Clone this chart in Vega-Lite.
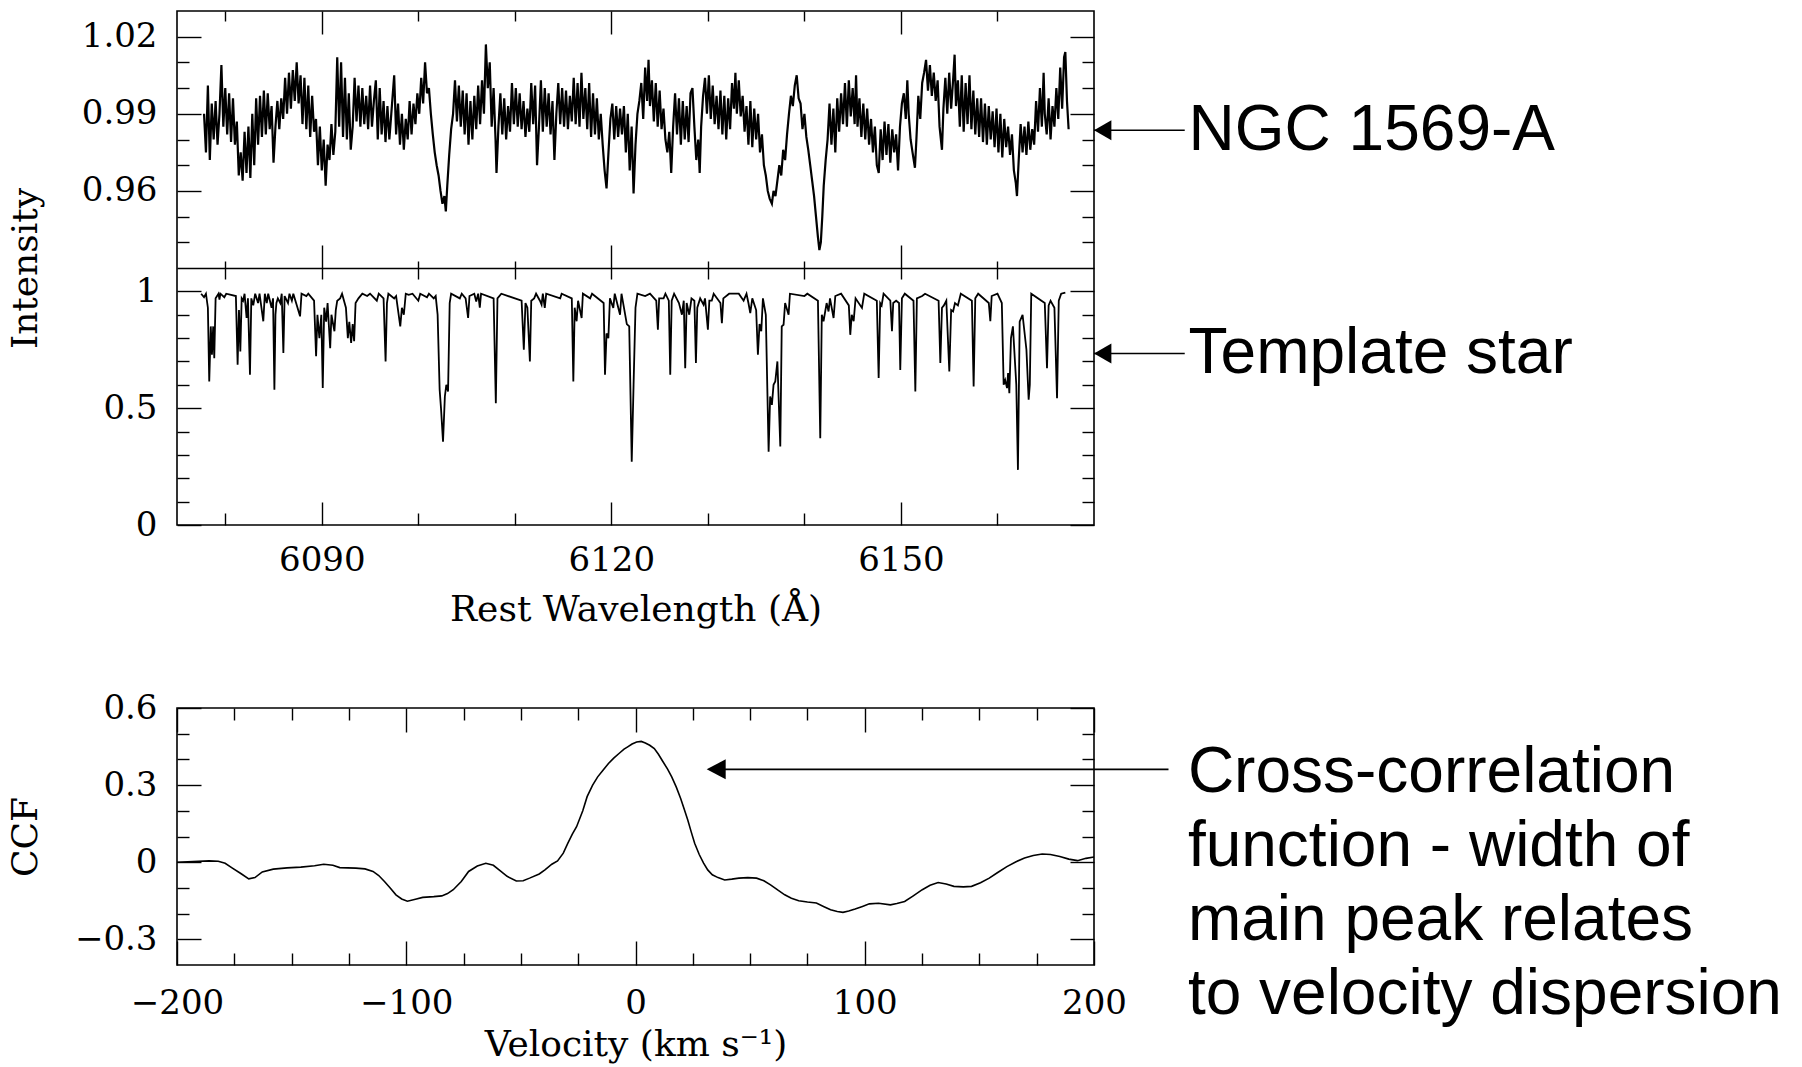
{
  "$schema": "https://vega.github.io/schema/vega-lite/v6.json",
  "background": "white",
  "padding": {"left": 6, "top": 9, "right": 5, "bottom": 3},
  "spacing": 62,
  "config": {
    "font": "DejaVu Serif",
    "view": {"stroke": "black", "strokeWidth": 1.6},
    "axis": {
      "domain": false, "grid": false, "tickColor": "black", "tickWidth": 1.4,
      "labelFont": "DejaVu Serif", "labelFontSize": 34, "labelColor": "black",
      "titleFont": "DejaVu Serif", "titleFontSize": 36, "titleColor": "black", "titleFontWeight": "normal",
      "labelFlush": false, "labelOverlap": false
    }
  },
  "datasets": {
    "ngc": [
      {"w":6077.8,"f":0.990},{"w":6078.0,"f":0.975},{"w":6078.2,"f":1.001},{"w":6078.4,"f":0.972},{"w":6078.6,"f":0.994},{"w":6078.8,"f":0.980},{"w":6079.0,"f":0.995},{"w":6079.2,"f":0.978},{"w":6079.4,"f":0.990},{"w":6079.6,"f":1.009},
      {"w":6079.8,"f":0.985},{"w":6080.0,"f":1.000},{"w":6080.2,"f":0.982},{"w":6080.4,"f":0.998},{"w":6080.6,"f":0.979},{"w":6080.8,"f":0.996},{"w":6081.0,"f":0.978},{"w":6081.2,"f":0.987},{"w":6081.4,"f":0.966},{"w":6081.6,"f":0.975},
      {"w":6081.8,"f":0.964},{"w":6082.0,"f":0.983},{"w":6082.2,"f":0.967},{"w":6082.4,"f":0.985},{"w":6082.6,"f":0.965},{"w":6082.8,"f":0.990},{"w":6083.0,"f":0.970},{"w":6083.2,"f":0.996},{"w":6083.4,"f":0.978},{"w":6083.6,"f":0.997},
      {"w":6083.8,"f":0.981},{"w":6084.0,"f":0.999},{"w":6084.2,"f":0.982},{"w":6084.4,"f":0.998},{"w":6084.6,"f":0.984},{"w":6084.8,"f":0.993},{"w":6085.0,"f":0.971},{"w":6085.2,"f":0.985},{"w":6085.4,"f":0.995},{"w":6085.6,"f":0.984},
      {"w":6085.8,"f":0.996},{"w":6086.0,"f":0.988},{"w":6086.2,"f":1.004},{"w":6086.4,"f":0.990},{"w":6086.6,"f":1.006},{"w":6086.8,"f":0.992},{"w":6087.0,"f":1.007},{"w":6087.2,"f":0.995},{"w":6087.4,"f":1.010},{"w":6087.6,"f":0.994},
      {"w":6087.8,"f":1.005},{"w":6088.0,"f":0.986},{"w":6088.2,"f":1.004},{"w":6088.4,"f":0.984},{"w":6088.6,"f":1.001},{"w":6088.8,"f":0.981},{"w":6089.0,"f":0.997},{"w":6089.2,"f":0.983},{"w":6089.4,"f":0.988},{"w":6089.6,"f":0.970},
      {"w":6089.8,"f":0.985},{"w":6090.0,"f":0.968},{"w":6090.2,"f":0.980},{"w":6090.4,"f":0.962},{"w":6090.6,"f":0.978},{"w":6090.8,"f":0.972},{"w":6091.0,"f":0.986},{"w":6091.2,"f":0.974},{"w":6091.4,"f":0.983},{"w":6091.6,"f":1.012},
      {"w":6091.8,"f":0.985},{"w":6092.0,"f":1.010},{"w":6092.2,"f":0.981},{"w":6092.4,"f":1.004},{"w":6092.6,"f":0.980},{"w":6092.8,"f":0.998},{"w":6093.0,"f":0.976},{"w":6093.2,"f":0.985},{"w":6093.4,"f":1.004},{"w":6093.6,"f":0.987},
      {"w":6093.8,"f":1.001},{"w":6094.0,"f":0.985},{"w":6094.2,"f":1.000},{"w":6094.4,"f":0.986},{"w":6094.6,"f":0.997},{"w":6094.8,"f":0.984},{"w":6095.0,"f":1.001},{"w":6095.2,"f":0.985},{"w":6095.4,"f":0.995},{"w":6095.6,"f":1.003},
      {"w":6095.8,"f":0.980},{"w":6096.0,"f":1.000},{"w":6096.2,"f":0.982},{"w":6096.4,"f":0.995},{"w":6096.6,"f":0.979},{"w":6096.8,"f":0.993},{"w":6097.0,"f":0.980},{"w":6097.2,"f":0.990},{"w":6097.5,"f":1.005},{"w":6097.7,"f":0.982},
      {"w":6097.9,"f":0.994},{"w":6098.1,"f":0.978},{"w":6098.3,"f":0.990},{"w":6098.5,"f":0.976},{"w":6098.7,"f":0.988},{"w":6098.9,"f":0.980},{"w":6099.1,"f":0.995},{"w":6099.3,"f":0.982},{"w":6099.5,"f":0.994},{"w":6099.7,"f":0.986},
      {"w":6099.9,"f":0.998},{"w":6100.1,"f":0.990},{"w":6100.3,"f":1.004},{"w":6100.5,"f":0.994},{"w":6100.7,"f":1.010},{"w":6100.9,"f":0.998},{"w":6101.1,"f":1.000},{"w":6101.3,"f":0.990},{"w":6101.5,"f":0.982},{"w":6101.7,"f":0.975},
      {"w":6101.9,"f":0.970},{"w":6102.1,"f":0.966},{"w":6102.3,"f":0.960},{"w":6102.5,"f":0.955},{"w":6102.7,"f":0.958},{"w":6102.85,"f":0.952},{"w":6103.0,"f":0.962},{"w":6103.2,"f":0.974},{"w":6103.4,"f":0.984},{"w":6103.6,"f":0.990},
      {"w":6103.8,"f":1.003},{"w":6104.0,"f":0.987},{"w":6104.2,"f":1.001},{"w":6104.4,"f":0.985},{"w":6104.6,"f":0.999},{"w":6104.8,"f":0.982},{"w":6105.0,"f":0.998},{"w":6105.2,"f":0.978},{"w":6105.4,"f":0.995},{"w":6105.6,"f":0.980},
      {"w":6105.8,"f":0.997},{"w":6106.0,"f":0.984},{"w":6106.2,"f":1.001},{"w":6106.4,"f":0.986},{"w":6106.6,"f":1.003},{"w":6106.8,"f":0.990},{"w":6107.0,"f":1.017},{"w":6107.2,"f":1.000},{"w":6107.4,"f":1.010},{"w":6107.6,"f":0.985},
      {"w":6107.8,"f":1.000},{"w":6108.0,"f":0.980},{"w":6108.1,"f":0.967},{"w":6108.3,"f":0.985},{"w":6108.5,"f":0.998},{"w":6108.7,"f":0.982},{"w":6108.9,"f":0.996},{"w":6109.1,"f":0.980},{"w":6109.3,"f":0.993},{"w":6109.5,"f":0.983},
      {"w":6109.7,"f":1.002},{"w":6109.9,"f":0.986},{"w":6110.1,"f":1.000},{"w":6110.3,"f":0.985},{"w":6110.5,"f":0.998},{"w":6110.7,"f":0.984},{"w":6110.9,"f":0.995},{"w":6111.1,"f":0.981},{"w":6111.3,"f":0.992},{"w":6111.5,"f":0.983},
      {"w":6111.7,"f":1.002},{"w":6111.9,"f":0.986},{"w":6112.1,"f":1.001},{"w":6112.3,"f":0.970},{"w":6112.5,"f":0.985},{"w":6112.7,"f":1.003},{"w":6112.9,"f":0.983},{"w":6113.1,"f":1.000},{"w":6113.3,"f":0.985},{"w":6113.5,"f":0.998},
      {"w":6113.7,"f":0.982},{"w":6113.9,"f":0.995},{"w":6114.1,"f":0.972},{"w":6114.3,"f":0.990},{"w":6114.5,"f":1.002},{"w":6114.7,"f":0.986},{"w":6114.9,"f":1.000},{"w":6115.1,"f":0.985},{"w":6115.3,"f":0.999},{"w":6115.5,"f":0.984},
      {"w":6115.7,"f":0.997},{"w":6115.9,"f":0.987},{"w":6116.1,"f":1.004},{"w":6116.3,"f":0.986},{"w":6116.5,"f":1.002},{"w":6116.7,"f":0.985},{"w":6116.9,"f":1.006},{"w":6117.1,"f":0.988},{"w":6117.3,"f":1.000},{"w":6117.5,"f":0.984},
      {"w":6117.7,"f":1.002},{"w":6117.9,"f":0.981},{"w":6118.1,"f":0.998},{"w":6118.3,"f":0.982},{"w":6118.5,"f":0.996},{"w":6118.7,"f":0.980},{"w":6118.9,"f":0.990},{"w":6119.1,"f":0.978},{"w":6119.3,"f":0.968},{"w":6119.5,"f":0.961},
      {"w":6119.7,"f":0.975},{"w":6119.9,"f":0.988},{"w":6120.1,"f":0.994},{"w":6120.3,"f":0.980},{"w":6120.5,"f":0.993},{"w":6120.7,"f":0.981},{"w":6120.9,"f":0.992},{"w":6121.1,"f":0.982},{"w":6121.3,"f":0.993},{"w":6121.5,"f":0.975},
      {"w":6121.7,"f":0.990},{"w":6121.9,"f":0.968},{"w":6122.1,"f":0.985},{"w":6122.3,"f":0.959},{"w":6122.5,"f":0.978},{"w":6122.7,"f":0.990},{"w":6122.9,"f":0.995},{"w":6123.1,"f":1.002},{"w":6123.3,"f":0.988},{"w":6123.5,"f":1.008},
      {"w":6123.7,"f":0.995},{"w":6123.85,"f":1.011},{"w":6124.0,"f":0.993},{"w":6124.2,"f":1.003},{"w":6124.4,"f":0.987},{"w":6124.6,"f":1.002},{"w":6124.8,"f":0.985},{"w":6125.0,"f":0.999},{"w":6125.2,"f":0.984},{"w":6125.4,"f":0.992},
      {"w":6125.6,"f":0.980},{"w":6125.8,"f":0.975},{"w":6126.0,"f":0.983},{"w":6126.2,"f":0.967},{"w":6126.4,"f":0.985},{"w":6126.6,"f":0.998},{"w":6126.8,"f":0.982},{"w":6127.0,"f":0.996},{"w":6127.2,"f":0.978},{"w":6127.4,"f":0.995},
      {"w":6127.6,"f":0.980},{"w":6127.8,"f":0.993},{"w":6128.0,"f":0.979},{"w":6128.2,"f":0.998},{"w":6128.4,"f":1.000},{"w":6128.6,"f":0.985},{"w":6128.8,"f":0.972},{"w":6129.0,"f":0.980},{"w":6129.15,"f":0.967},{"w":6129.3,"f":0.985},
      {"w":6129.5,"f":0.997},{"w":6129.7,"f":1.004},{"w":6129.9,"f":0.990},{"w":6130.1,"f":1.005},{"w":6130.3,"f":0.988},{"w":6130.5,"f":1.001},{"w":6130.7,"f":0.986},{"w":6130.9,"f":0.997},{"w":6131.1,"f":0.984},{"w":6131.3,"f":0.999},
      {"w":6131.5,"f":0.982},{"w":6131.7,"f":0.997},{"w":6131.9,"f":0.980},{"w":6132.1,"f":0.996},{"w":6132.3,"f":0.984},{"w":6132.5,"f":1.002},{"w":6132.7,"f":0.992},{"w":6132.85,"f":1.006},{"w":6133.0,"f":0.990},{"w":6133.2,"f":1.003},
      {"w":6133.4,"f":0.989},{"w":6133.6,"f":0.997},{"w":6133.8,"f":0.983},{"w":6134.0,"f":0.993},{"w":6134.2,"f":0.978},{"w":6134.4,"f":0.995},{"w":6134.6,"f":0.977},{"w":6134.8,"f":0.992},{"w":6135.0,"f":0.980},{"w":6135.2,"f":0.990},
      {"w":6135.4,"f":0.975},{"w":6135.6,"f":0.982},{"w":6135.8,"f":0.970},{"w":6136.0,"f":0.966},{"w":6136.2,"f":0.960},{"w":6136.4,"f":0.957},{"w":6136.63,"f":0.955},{"w":6136.8,"f":0.960},{"w":6137.0,"f":0.958},{"w":6137.2,"f":0.964},
      {"w":6137.4,"f":0.970},{"w":6137.6,"f":0.966},{"w":6137.8,"f":0.976},{"w":6138.0,"f":0.972},{"w":6138.2,"f":0.982},{"w":6138.4,"f":0.990},{"w":6138.6,"f":0.997},{"w":6138.8,"f":0.993},{"w":6139.0,"f":1.001},{"w":6139.2,"f":1.005},
      {"w":6139.4,"f":0.996},{"w":6139.6,"f":0.994},{"w":6139.8,"f":0.984},{"w":6140.0,"f":0.990},{"w":6140.2,"f":0.981},{"w":6140.4,"f":0.976},{"w":6140.6,"f":0.970},{"w":6140.8,"f":0.964},{"w":6141.0,"f":0.958},{"w":6141.2,"f":0.950},
      {"w":6141.4,"f":0.942},{"w":6141.55,"f":0.937},{"w":6141.7,"f":0.940},{"w":6141.85,"f":0.950},{"w":6142.0,"f":0.962},{"w":6142.2,"f":0.972},{"w":6142.4,"f":0.980},{"w":6142.6,"f":0.994},{"w":6142.8,"f":0.978},{"w":6143.0,"f":0.992},
      {"w":6143.2,"f":0.975},{"w":6143.4,"f":0.996},{"w":6143.6,"f":0.983},{"w":6143.8,"f":0.998},{"w":6144.0,"f":0.986},{"w":6144.2,"f":1.002},{"w":6144.4,"f":0.985},{"w":6144.6,"f":1.003},{"w":6144.8,"f":0.989},{"w":6145.0,"f":1.000},
      {"w":6145.2,"f":0.986},{"w":6145.35,"f":1.005},{"w":6145.5,"f":0.985},{"w":6145.7,"f":0.996},{"w":6145.9,"f":0.981},{"w":6146.1,"f":0.994},{"w":6146.3,"f":0.980},{"w":6146.5,"f":0.992},{"w":6146.7,"f":0.978},{"w":6146.9,"f":0.988},
      {"w":6147.1,"f":0.975},{"w":6147.3,"f":0.985},{"w":6147.5,"f":0.970},{"w":6147.7,"f":0.967},{"w":6147.9,"f":0.984},{"w":6148.1,"f":0.972},{"w":6148.3,"f":0.987},{"w":6148.5,"f":0.974},{"w":6148.7,"f":0.986},{"w":6148.9,"f":0.971},
      {"w":6149.1,"f":0.984},{"w":6149.3,"f":0.975},{"w":6149.5,"f":0.982},{"w":6149.7,"f":0.968},{"w":6149.9,"f":0.985},{"w":6150.1,"f":0.994},{"w":6150.3,"f":0.998},{"w":6150.5,"f":0.988},{"w":6150.66,"f":1.003},{"w":6150.8,"f":0.990},
      {"w":6151.0,"f":0.980},{"w":6151.2,"f":0.975},{"w":6151.45,"f":0.969},{"w":6151.6,"f":0.980},{"w":6151.8,"f":0.997},{"w":6152.0,"f":0.988},{"w":6152.2,"f":1.002},{"w":6152.4,"f":1.006},{"w":6152.6,"f":1.011},{"w":6152.8,"f":0.999},
      {"w":6153.0,"f":1.009},{"w":6153.2,"f":0.997},{"w":6153.4,"f":1.006},{"w":6153.6,"f":0.995},{"w":6153.8,"f":1.003},{"w":6154.0,"f":0.985},{"w":6154.25,"f":0.976},{"w":6154.4,"f":0.992},{"w":6154.6,"f":1.004},{"w":6154.8,"f":0.990},
      {"w":6155.0,"f":1.006},{"w":6155.2,"f":0.992},{"w":6155.4,"f":1.003},{"w":6155.56,"f":1.013},{"w":6155.7,"f":0.993},{"w":6155.9,"f":1.003},{"w":6156.1,"f":0.985},{"w":6156.3,"f":1.005},{"w":6156.5,"f":0.983},{"w":6156.7,"f":1.002},
      {"w":6156.9,"f":0.986},{"w":6157.1,"f":1.005},{"w":6157.3,"f":0.984},{"w":6157.5,"f":0.999},{"w":6157.7,"f":0.982},{"w":6157.9,"f":0.996},{"w":6158.1,"f":0.981},{"w":6158.3,"f":0.996},{"w":6158.5,"f":0.979},{"w":6158.7,"f":0.994},
      {"w":6158.9,"f":0.978},{"w":6159.1,"f":0.993},{"w":6159.3,"f":0.980},{"w":6159.5,"f":0.991},{"w":6159.7,"f":0.977},{"w":6159.9,"f":0.992},{"w":6160.1,"f":0.975},{"w":6160.3,"f":0.990},{"w":6160.5,"f":0.973},{"w":6160.7,"f":0.988},
      {"w":6160.9,"f":0.977},{"w":6161.1,"f":0.985},{"w":6161.3,"f":0.974},{"w":6161.5,"f":0.982},{"w":6161.7,"f":0.968},{"w":6161.9,"f":0.963},{"w":6162.02,"f":0.958},{"w":6162.2,"f":0.972},{"w":6162.4,"f":0.986},{"w":6162.6,"f":0.975},
      {"w":6162.8,"f":0.985},{"w":6163.0,"f":0.974},{"w":6163.2,"f":0.987},{"w":6163.4,"f":0.976},{"w":6163.6,"f":0.984},{"w":6163.8,"f":0.978},{"w":6164.0,"f":0.995},{"w":6164.2,"f":0.983},{"w":6164.4,"f":1.000},{"w":6164.6,"f":0.985},
      {"w":6164.78,"f":1.006},{"w":6164.9,"f":0.990},{"w":6165.1,"f":0.982},{"w":6165.3,"f":0.996},{"w":6165.5,"f":0.980},{"w":6165.7,"f":0.993},{"w":6165.9,"f":0.985},{"w":6166.1,"f":1.000},{"w":6166.3,"f":0.988},{"w":6166.5,"f":1.008},
      {"w":6166.7,"f":0.992},{"w":6166.9,"f":1.012},{"w":6167.03,"f":1.014},{"w":6167.2,"f":0.995},{"w":6167.37,"f":0.984}
    ],
    "tmpl": [
      {"w":6077.5,"f":0.99},{"w":6077.8,"f":0.975},{"w":6078.0,"f":0.99},{"w":6078.2,"f":0.93},{"w":6078.34,"f":0.614},{"w":6078.5,"f":0.85},{"w":6078.62,"f":0.729},{"w":6078.75,"f":0.85},{"w":6078.86,"f":0.714},{"w":6079.0,"f":0.97},
      {"w":6079.3,"f":0.99},{"w":6079.4,"f":0.965},{"w":6079.5,"f":0.99},{"w":6079.9,"f":0.975},{"w":6080.1,"f":0.99},{"w":6081.1,"f":0.98},{"w":6081.28,"f":0.686},{"w":6081.42,"f":0.92},{"w":6081.56,"f":0.743},{"w":6081.7,"f":0.97},
      {"w":6081.85,"f":0.96},{"w":6082.0,"f":0.99},{"w":6082.21,"f":0.886},{"w":6082.35,"f":0.97},{"w":6082.56,"f":0.643},{"w":6082.7,"f":0.97},{"w":6082.9,"f":0.94},{"w":6083.1,"f":0.99},{"w":6083.4,"f":0.95},{"w":6083.55,"f":0.99},
      {"w":6083.94,"f":0.872},{"w":6084.1,"f":0.99},{"w":6084.3,"f":0.95},{"w":6084.45,"f":0.99},{"w":6084.8,"f":0.93},{"w":6084.95,"f":0.97},{"w":6085.09,"f":0.579},{"w":6085.2,"f":0.90},{"w":6085.3,"f":0.95},{"w":6085.45,"f":0.97},
      {"w":6085.7,"f":0.95},{"w":6085.85,"f":0.99},{"w":6086.02,"f":0.736},{"w":6086.15,"f":0.98},{"w":6086.5,"f":0.95},{"w":6086.65,"f":0.99},{"w":6086.9,"f":0.96},{"w":6087.05,"f":0.99},{"w":6087.75,"f":0.893},{"w":6087.9,"f":0.99},
      {"w":6088.4,"f":0.98},{"w":6088.6,"f":0.99},{"w":6089.2,"f":0.96},{"w":6089.41,"f":0.722},{"w":6089.55,"f":0.90},{"w":6089.75,"f":0.80},{"w":6089.95,"f":0.90},{"w":6090.1,"f":0.586},{"w":6090.25,"f":0.93},{"w":6090.45,"f":0.87},
      {"w":6090.6,"f":0.95},{"w":6090.87,"f":0.757},{"w":6091.0,"f":0.90},{"w":6091.31,"f":0.829},{"w":6091.45,"f":0.92},{"w":6091.6,"f":0.96},{"w":6091.9,"f":0.97},{"w":6092.1,"f":0.99},{"w":6092.5,"f":0.93},{"w":6092.7,"f":0.80},
      {"w":6092.85,"f":0.87},{"w":6093.04,"f":0.779},{"w":6093.2,"f":0.86},{"w":6093.35,"f":0.787},{"w":6093.5,"f":0.95},{"w":6093.8,"f":0.97},{"w":6094.2,"f":0.99},{"w":6094.7,"f":0.98},{"w":6095.0,"f":0.99},{"w":6095.7,"f":0.96},
      {"w":6095.9,"f":0.99},{"w":6096.4,"f":0.97},{"w":6096.61,"f":0.70},{"w":6096.75,"f":0.95},{"w":6096.9,"f":0.99},{"w":6097.5,"f":0.97},{"w":6097.7,"f":0.98},{"w":6098.13,"f":0.85},{"w":6098.3,"f":0.93},{"w":6098.5,"f":0.90},
      {"w":6098.7,"f":0.99},{"w":6099.0,"f":0.985},{"w":6099.4,"f":0.99},{"w":6100.0,"f":0.96},{"w":6100.2,"f":0.99},{"w":6100.9,"f":0.975},{"w":6101.1,"f":0.99},{"w":6101.6,"f":0.97},{"w":6101.8,"f":0.98},{"w":6102.0,"f":0.90},
      {"w":6102.21,"f":0.579},{"w":6102.35,"f":0.50},{"w":6102.56,"f":0.357},{"w":6102.75,"f":0.55},{"w":6102.9,"f":0.60},{"w":6103.08,"f":0.571},{"w":6103.25,"f":0.95},{"w":6103.4,"f":0.99},{"w":6104.3,"f":0.97},{"w":6104.5,"f":0.99},
      {"w":6104.9,"f":0.97},{"w":6105.16,"f":0.886},{"w":6105.3,"f":0.98},{"w":6105.8,"f":0.99},{"w":6106.0,"f":0.957},{"w":6106.2,"f":0.99},{"w":6106.37,"f":0.93},{"w":6106.5,"f":0.99},{"w":6107.8,"f":0.97},{"w":6108.03,"f":0.521},
      {"w":6108.2,"f":0.97},{"w":6108.6,"f":0.99},{"w":6110.7,"f":0.96},{"w":6110.93,"f":0.75},{"w":6111.1,"f":0.95},{"w":6111.3,"f":0.93},{"w":6111.56,"f":0.70},{"w":6111.7,"f":0.96},{"w":6112.0,"f":0.97},{"w":6112.2,"f":0.99},
      {"w":6112.6,"f":0.96},{"w":6112.77,"f":0.943},{"w":6112.9,"f":0.99},{"w":6113.1,"f":0.929},{"w":6113.25,"f":0.99},{"w":6114.7,"f":0.97},{"w":6114.85,"f":0.99},{"w":6115.9,"f":0.97},{"w":6116.06,"f":0.614},{"w":6116.2,"f":0.93},
      {"w":6116.4,"f":0.872},{"w":6116.55,"f":0.96},{"w":6116.92,"f":0.886},{"w":6117.05,"f":0.99},{"w":6117.8,"f":0.97},{"w":6118.0,"f":0.99},{"w":6119.2,"f":0.95},{"w":6119.34,"f":0.643},{"w":6119.5,"f":0.82},{"w":6119.69,"f":0.80},
      {"w":6119.85,"f":0.97},{"w":6120.2,"f":0.929},{"w":6120.35,"f":0.99},{"w":6120.9,"f":0.90},{"w":6121.05,"f":0.99},{"w":6121.6,"f":0.86},{"w":6121.85,"f":0.85},{"w":6122.11,"f":0.271},{"w":6122.3,"f":0.60},{"w":6122.5,"f":0.93},
      {"w":6122.7,"f":0.99},{"w":6123.5,"f":0.98},{"w":6124.0,"f":0.99},{"w":6124.65,"f":0.96},{"w":6124.82,"f":0.836},{"w":6124.95,"f":0.97},{"w":6125.41,"f":0.97},{"w":6125.6,"f":0.99},{"w":6125.95,"f":0.96},{"w":6126.1,"f":0.643},
      {"w":6126.25,"f":0.96},{"w":6126.5,"f":0.99},{"w":6127.0,"f":0.95},{"w":6127.31,"f":0.90},{"w":6127.5,"f":0.96},{"w":6127.65,"f":0.671},{"w":6127.8,"f":0.95},{"w":6128.07,"f":0.90},{"w":6128.3,"f":0.97},{"w":6128.6,"f":0.96},
      {"w":6128.76,"f":0.693},{"w":6128.9,"f":0.93},{"w":6129.2,"f":0.97},{"w":6129.55,"f":0.943},{"w":6129.7,"f":0.97},{"w":6130.0,"f":0.836},{"w":6130.15,"f":0.96},{"w":6130.4,"f":0.96},{"w":6130.6,"f":0.99},{"w":6131.3,"f":0.95},
      {"w":6131.45,"f":0.864},{"w":6131.6,"f":0.97},{"w":6132.2,"f":0.99},{"w":6133.2,"f":0.99},{"w":6133.7,"f":0.96},{"w":6134.0,"f":0.99},{"w":6134.2,"f":0.95},{"w":6134.39,"f":0.907},{"w":6134.6,"f":0.97},{"w":6135.0,"f":0.92},
      {"w":6135.18,"f":0.729},{"w":6135.35,"f":0.86},{"w":6135.53,"f":0.829},{"w":6135.7,"f":0.97},{"w":6136.0,"f":0.90},{"w":6136.29,"f":0.314},{"w":6136.45,"f":0.55},{"w":6136.63,"f":0.514},{"w":6136.8,"f":0.60},{"w":6136.98,"f":0.614},
      {"w":6137.2,"f":0.70},{"w":6137.5,"f":0.336},{"w":6137.65,"f":0.85},{"w":6137.84,"f":0.857},{"w":6138.0,"f":0.95},{"w":6138.36,"f":0.90},{"w":6138.5,"f":0.99},{"w":6140.0,"f":0.98},{"w":6140.3,"f":0.99},{"w":6141.4,"f":0.96},
      {"w":6141.64,"f":0.371},{"w":6141.8,"f":0.90},{"w":6141.98,"f":0.872},{"w":6142.3,"f":0.95},{"w":6142.5,"f":0.914},{"w":6142.65,"f":0.97},{"w":6143.02,"f":0.886},{"w":6143.2,"f":0.98},{"w":6143.8,"f":0.99},{"w":6144.6,"f":0.94},
      {"w":6144.75,"f":0.814},{"w":6144.9,"f":0.90},{"w":6145.1,"f":0.872},{"w":6145.3,"f":0.97},{"w":6145.96,"f":0.929},{"w":6146.2,"f":0.99},{"w":6147.5,"f":0.96},{"w":6147.69,"f":0.629},{"w":6147.85,"f":0.95},{"w":6148.0,"f":0.94},
      {"w":6148.2,"f":0.99},{"w":6148.9,"f":0.96},{"w":6149.07,"f":0.829},{"w":6149.2,"f":0.95},{"w":6149.5,"f":0.96},{"w":6149.8,"f":0.95},{"w":6149.93,"f":0.664},{"w":6150.1,"f":0.97},{"w":6150.4,"f":0.99},{"w":6151.3,"f":0.96},
      {"w":6151.49,"f":0.571},{"w":6151.65,"f":0.97},{"w":6152.2,"f":0.98},{"w":6152.5,"f":0.99},{"w":6153.9,"f":0.96},{"w":6154.08,"f":0.693},{"w":6154.25,"f":0.93},{"w":6154.45,"f":0.94},{"w":6154.7,"f":0.96},{"w":6155.01,"f":0.657},
      {"w":6155.2,"f":0.92},{"w":6155.4,"f":0.914},{"w":6155.6,"f":0.95},{"w":6155.9,"f":0.94},{"w":6156.2,"f":0.99},{"w":6157.35,"f":0.96},{"w":6157.53,"f":0.593},{"w":6157.7,"f":0.97},{"w":6158.0,"f":0.99},{"w":6159.1,"f":0.95},
      {"w":6159.26,"f":0.872},{"w":6159.4,"f":0.98},{"w":6160.0,"f":0.99},{"w":6160.45,"f":0.95},{"w":6160.64,"f":0.60},{"w":6160.8,"f":0.62},{"w":6160.99,"f":0.586},{"w":6161.1,"f":0.65},{"w":6161.23,"f":0.564},{"w":6161.4,"f":0.80},
      {"w":6161.6,"f":0.85},{"w":6161.95,"f":0.60},{"w":6162.12,"f":0.236},{"w":6162.3,"f":0.87},{"w":6162.6,"f":0.90},{"w":6163.0,"f":0.75},{"w":6163.23,"f":0.536},{"w":6163.35,"f":0.60},{"w":6163.5,"f":0.99},{"w":6164.9,"f":0.95},
      {"w":6165.13,"f":0.671},{"w":6165.3,"f":0.94},{"w":6165.5,"f":0.96},{"w":6165.9,"f":0.93},{"w":6166.17,"f":0.543},{"w":6166.35,"f":0.96},{"w":6166.6,"f":0.99},{"w":6167.03,"f":0.995}
    ],
    "ccf": [
      {"v":-200,"c":0.0},{"v":-193,"c":0.003},{"v":-186,"c":0.005},{"v":-182,"c":0.004},{"v":-179,"c":-0.004},{"v":-176,"c":-0.022},{"v":-172,"c":-0.045},{"v":-168.7,"c":-0.065},{"v":-166,"c":-0.060},{"v":-162.8,"c":-0.038},
      {"v":-158,"c":-0.027},{"v":-152,"c":-0.022},{"v":-146,"c":-0.019},{"v":-140,"c":-0.014},{"v":-136,"c":-0.008},{"v":-132,"c":-0.012},{"v":-129,"c":-0.021},{"v":-122,"c":-0.023},{"v":-118,"c":-0.026},{"v":-114.5,"c":-0.036},
      {"v":-112,"c":-0.052},{"v":-109.5,"c":-0.075},{"v":-107,"c":-0.100},{"v":-104.5,"c":-0.127},{"v":-102,"c":-0.143},{"v":-99.5,"c":-0.152},{"v":-96,"c":-0.144},{"v":-92.8,"c":-0.137},{"v":-88,"c":-0.134},{"v":-84.5,"c":-0.131},
      {"v":-82,"c":-0.122},{"v":-79.5,"c":-0.107},{"v":-76,"c":-0.075},{"v":-72.8,"c":-0.036},{"v":-69,"c":-0.015},{"v":-65.3,"c":-0.004},{"v":-62,"c":-0.012},{"v":-59.5,"c":-0.030},{"v":-56,"c":-0.055},{"v":-52,"c":-0.073},
      {"v":-49,"c":-0.072},{"v":-46.2,"c":-0.062},{"v":-42,"c":-0.046},{"v":-39.5,"c":-0.030},{"v":-36.5,"c":-0.008},{"v":-34,"c":0.005},{"v":-31.5,"c":0.035},{"v":-29.5,"c":0.074},{"v":-27.5,"c":0.110},{"v":-25.7,"c":0.138},
      {"v":-23,"c":0.200},{"v":-21.1,"c":0.255},{"v":-18.7,"c":0.300},{"v":-16.5,"c":0.332},{"v":-14,"c":0.360},{"v":-11.8,"c":0.384},{"v":-9.5,"c":0.405},{"v":-7.2,"c":0.423},{"v":-5,"c":0.440},{"v":-3.4,"c":0.449},
      {"v":-1.5,"c":0.460},{"v":0.5,"c":0.468},{"v":2.5,"c":0.470},{"v":4.3,"c":0.464},{"v":6.2,"c":0.455},{"v":8.2,"c":0.442},{"v":10,"c":0.420},{"v":12,"c":0.391},{"v":14,"c":0.362},{"v":15.8,"c":0.332},
      {"v":17.8,"c":0.292},{"v":19.7,"c":0.248},{"v":21.3,"c":0.205},{"v":22.8,"c":0.164},{"v":24.3,"c":0.118},{"v":25.8,"c":0.074},{"v":27.8,"c":0.030},{"v":29.7,"c":-0.004},{"v":31.5,"c":-0.030},{"v":33.5,"c":-0.049},
      {"v":36,"c":-0.060},{"v":38.9,"c":-0.069},{"v":42,"c":-0.066},{"v":45.1,"c":-0.062},{"v":49,"c":-0.060},{"v":52.8,"c":-0.062},{"v":56,"c":-0.072},{"v":58.9,"c":-0.088},{"v":62,"c":-0.108},{"v":65.1,"c":-0.127},
      {"v":68,"c":-0.140},{"v":71.2,"c":-0.150},{"v":75,"c":-0.155},{"v":78.9,"c":-0.159},{"v":82,"c":-0.172},{"v":85.1,"c":-0.185},{"v":88,"c":-0.192},{"v":90.5,"c":-0.195},{"v":93,"c":-0.190},{"v":95.8,"c":-0.182},
      {"v":99,"c":-0.172},{"v":102,"c":-0.162},{"v":106,"c":-0.160},{"v":111.2,"c":-0.166},{"v":114,"c":-0.161},{"v":117.4,"c":-0.153},{"v":121,"c":-0.132},{"v":125.1,"c":-0.107},{"v":128.5,"c":-0.090},{"v":132,"c":-0.079},
      {"v":135.5,"c":-0.085},{"v":138.9,"c":-0.094},{"v":143,"c":-0.096},{"v":146.6,"c":-0.094},{"v":150.5,"c":-0.080},{"v":154.3,"c":-0.062},{"v":158,"c":-0.040},{"v":162,"c":-0.017},{"v":166,"c":0.002},{"v":169.7,"c":0.016},
      {"v":173.5,"c":0.026},{"v":177.4,"c":0.032},{"v":181,"c":0.030},{"v":185.1,"c":0.022},{"v":189,"c":0.012},{"v":192.8,"c":0.006},{"v":196.5,"c":0.015},{"v":200,"c":0.020}
    ]
  },
  "vconcat": [
    {
      "width": 917,
      "height": 514,
      "layer": [
        {
          "data": {"name": "ngc"},
          "mark": {"type": "line", "color": "black", "strokeWidth": 2.2},
          "encoding": {
            "x": {"field": "w", "type": "quantitative",
                  "scale": {"domain": [6075, 6170], "nice": false, "zero": false},
                  "axis": {"orient": "top", "offset": -257, "values": [6080,6090,6100,6110,6120,6130,6140,6150,6160],
                           "tickSize": {"condition": {"test": "datum.value % 30 === 0", "value": 23}, "value": 7},
                           "labels": false, "title": null}},
            "y": {"field": "f", "type": "quantitative",
                  "scale": {"domain": [0.93, 1.03], "range": [257, 0], "nice": false, "zero": false},
                  "axis": {"orient": "left", "values": [0.94,0.95,0.96,0.97,0.98,0.99,1,1.01,1.02],
                           "tickSize": {"condition": {"test": "indexof([0.96,0.99,1.02], datum.value) >= 0", "value": -24}, "value": -12},
                           "labelExpr": "indexof([0.96,0.99,1.02], datum.value) >= 0 ? format(datum.value, '.2f') : ''",
                           "labelPadding": 44,
                           "title": "Intensity", "titleX": -133, "titleY": 257}}
          }
        },
        {
          "data": {"values": [{}]},
          "mark": {"type": "text", "text": "NGC 1569-A", "font": "Liberation Sans", "fontSize": 64, "align": "left", "baseline": "alphabetic", "color": "black"},
          "encoding": {
            "x": {"datum": 6179.8, "type": "quantitative",
                  "scale": {"domain": [6075, 6170], "nice": false, "zero": false},
                  "axis": {"orient": "top", "values": [6080,6090,6100,6110,6120,6130,6140,6150,6160],
                           "tickSize": {"condition": {"test": "datum.value % 30 === 0", "value": -23}, "value": -10},
                           "labels": false, "title": null}},
            "y": {"datum": 0.9758, "type": "quantitative",
                  "scale": {"domain": [0.93, 1.03], "range": [257, 0], "nice": false, "zero": false},
                  "axis": {"orient": "right", "values": [0.94,0.95,0.96,0.97,0.98,0.99,1,1.01,1.02],
                           "tickSize": {"condition": {"test": "indexof([0.96,0.99,1.02], datum.value) >= 0", "value": -24}, "value": -12},
                           "labels": false, "title": null}}
          }
        },
        {
          "data": {"values": [{}]},
          "mark": {"type": "rule", "color": "black", "strokeWidth": 1.7},
          "encoding": {
            "x": {"datum": 6170, "type": "quantitative", "scale": {"domain": [6075, 6170], "nice": false, "zero": false}, "axis": null},
            "x2": {"datum": 6179.4},
            "y": {"datum": 0.9836, "type": "quantitative", "scale": {"domain": [0.93, 1.03], "range": [257, 0], "nice": false, "zero": false}, "axis": null}
          }
        },
        {
          "data": {"values": [{}]},
          "mark": {"type": "point", "shape": "M -1 0 L 1 -1.15 L 1 1.15 Z", "filled": true, "color": "black", "opacity": 1, "size": 300, "strokeWidth": 0},
          "encoding": {
            "x": {"datum": 6170.9, "type": "quantitative", "scale": {"domain": [6075, 6170], "nice": false, "zero": false}, "axis": null},
            "y": {"datum": 0.9836, "type": "quantitative", "scale": {"domain": [0.93, 1.03], "range": [257, 0], "nice": false, "zero": false}, "axis": null}
          }
        },
        {
          "data": {"name": "tmpl"},
          "mark": {"type": "line", "color": "black", "strokeWidth": 1.8},
          "encoding": {
            "x": {"field": "w", "type": "quantitative",
                  "scale": {"domain": [6075, 6170], "nice": false, "zero": false},
                  "axis": {"orient": "bottom", "values": [6080,6090,6100,6110,6120,6130,6140,6150,6160],
                           "tickSize": {"condition": {"test": "datum.value % 30 === 0", "value": -23}, "value": -12},
                           "labelExpr": "datum.value % 30 === 0 ? format(datum.value, 'd') : ''",
                           "labelPadding": 41,
                           "title": "Rest Wavelength (Å)", "titleY": 95, "titleBaseline": "alphabetic"}},
            "y": {"field": "f", "type": "quantitative",
                  "scale": {"domain": [0, 1.1], "range": [514, 257], "nice": false, "zero": false},
                  "axis": {"orient": "left", "values": [0,0.1,0.2,0.3,0.4,0.5,0.6,0.7,0.8,0.9,1],
                           "tickSize": {"condition": {"test": "indexof([0,0.5,1], datum.value) >= 0", "value": -24}, "value": -12},
                           "labelExpr": "indexof([0,0.5,1], datum.value) >= 0 ? format(datum.value, '~g') : ''",
                           "labelPadding": 44, "title": null}}
          }
        },
        {
          "data": {"values": [{}]},
          "mark": {"type": "text", "text": "Template star", "font": "Liberation Sans", "fontSize": 64, "align": "left", "baseline": "alphabetic", "color": "black"},
          "encoding": {
            "x": {"datum": 6179.8, "type": "quantitative",
                  "scale": {"domain": [6075, 6170], "nice": false, "zero": false},
                  "axis": {"orient": "bottom", "offset": -257, "values": [6080,6090,6100,6110,6120,6130,6140,6150,6160],
                           "tickSize": 11, "labels": false, "title": null,
                           "domain": true, "domainColor": "black", "domainWidth": 1.6}},
            "y": {"datum": 0.650, "type": "quantitative",
                  "scale": {"domain": [0, 1.1], "range": [514, 257], "nice": false, "zero": false},
                  "axis": {"orient": "right", "values": [0,0.1,0.2,0.3,0.4,0.5,0.6,0.7,0.8,0.9,1],
                           "tickSize": {"condition": {"test": "indexof([0,0.5,1], datum.value) >= 0", "value": -24}, "value": -12},
                           "labels": false, "title": null}}
          }
        },
        {
          "data": {"values": [{}]},
          "mark": {"type": "rule", "color": "black", "strokeWidth": 1.7},
          "encoding": {
            "x": {"datum": 6170, "type": "quantitative", "scale": {"domain": [6075, 6170], "nice": false, "zero": false}, "axis": null},
            "x2": {"datum": 6179.4},
            "y": {"datum": 0.734, "type": "quantitative", "scale": {"domain": [0, 1.1], "range": [514, 257], "nice": false, "zero": false}, "axis": null}
          }
        },
        {
          "data": {"values": [{}]},
          "mark": {"type": "point", "shape": "M -1 0 L 1 -1.15 L 1 1.15 Z", "filled": true, "color": "black", "opacity": 1, "size": 300, "strokeWidth": 0},
          "encoding": {
            "x": {"datum": 6170.9, "type": "quantitative", "scale": {"domain": [6075, 6170], "nice": false, "zero": false}, "axis": null},
            "y": {"datum": 0.734, "type": "quantitative", "scale": {"domain": [0, 1.1], "range": [514, 257], "nice": false, "zero": false}, "axis": null}
          }
        }
      ],
      "resolve": {"scale": {"y": "independent"}, "axis": {"x": "independent", "y": "independent"}}
    },
    {
      "width": 917,
      "height": 257,
      "layer": [
        {
          "data": {"name": "ccf"},
          "mark": {"type": "line", "color": "black", "strokeWidth": 1.6},
          "encoding": {
            "x": {"field": "v", "type": "quantitative",
                  "scale": {"domain": [-200, 200], "nice": false, "zero": false},
                  "axis": {"orient": "bottom", "values": [-200,-175,-150,-125,-100,-75,-50,-25,0,25,50,75,100,125,150,175,200],
                           "tickSize": {"condition": {"test": "datum.value % 100 === 0", "value": -24}, "value": -12},
                           "labelExpr": "datum.value % 100 === 0 ? format(datum.value, 'd') : ''",
                           "labelPadding": 45,
                           "title": "Velocity (km s⁻¹)", "titleY": 90, "titleBaseline": "alphabetic"}},
            "y": {"field": "c", "type": "quantitative",
                  "scale": {"domain": [-0.4, 0.6], "nice": false, "zero": false},
                  "axis": {"orient": "left", "values": [-0.3,-0.2,-0.1,0,0.1,0.2,0.3,0.4,0.5,0.6],
                           "tickSize": {"condition": {"test": "indexof([-0.3,0,0.3,0.6], datum.value) >= 0", "value": -24}, "value": -12},
                           "labelExpr": "indexof([-0.3,0,0.3,0.6], datum.value) >= 0 ? format(datum.value, '~g') : ''",
                           "labelPadding": 44,
                           "title": "CCF", "titleX": -133}}
          }
        },
        {
          "data": {"values": [{}]},
          "mark": {"type": "text", "text": ["Cross-correlation", "function - width of", "main peak relates", "to velocity dispersion"], "lineHeight": 74, "font": "Liberation Sans", "fontSize": 64, "align": "left", "baseline": "alphabetic", "color": "black"},
          "encoding": {
            "x": {"datum": 240.96, "type": "quantitative",
                  "scale": {"domain": [-200, 200], "nice": false, "zero": false},
                  "axis": {"orient": "top", "values": [-200,-175,-150,-125,-100,-75,-50,-25,0,25,50,75,100,125,150,175,200],
                           "tickSize": {"condition": {"test": "datum.value % 100 === 0", "value": -24}, "value": -12},
                           "labels": false, "title": null}},
            "y": {"datum": 0.273, "type": "quantitative",
                  "scale": {"domain": [-0.4, 0.6], "nice": false, "zero": false},
                  "axis": {"orient": "right", "values": [-0.3,-0.2,-0.1,0,0.1,0.2,0.3,0.4,0.5,0.6],
                           "tickSize": {"condition": {"test": "indexof([-0.3,0,0.3,0.6], datum.value) >= 0", "value": -24}, "value": -12},
                           "labels": false, "title": null}}
          }
        },
        {
          "data": {"values": [{}]},
          "mark": {"type": "rule", "color": "black", "strokeWidth": 1.7},
          "encoding": {
            "x": {"datum": 33, "type": "quantitative", "scale": {"domain": [-200, 200], "nice": false, "zero": false}, "axis": null},
            "x2": {"datum": 232.5},
            "y": {"datum": 0.3615, "type": "quantitative", "scale": {"domain": [-0.4, 0.6], "nice": false, "zero": false}, "axis": null}
          }
        },
        {
          "data": {"values": [{}]},
          "mark": {"type": "point", "shape": "M -1 0 L 1 -1.05 L 1 1.05 Z", "filled": true, "color": "black", "opacity": 1, "size": 361, "strokeWidth": 0},
          "encoding": {
            "x": {"datum": 35.2, "type": "quantitative", "scale": {"domain": [-200, 200], "nice": false, "zero": false}, "axis": null},
            "y": {"datum": 0.3615, "type": "quantitative", "scale": {"domain": [-0.4, 0.6], "nice": false, "zero": false}, "axis": null}
          }
        }
      ],
      "resolve": {"axis": {"x": "independent", "y": "independent"}}
    }
  ]
}
